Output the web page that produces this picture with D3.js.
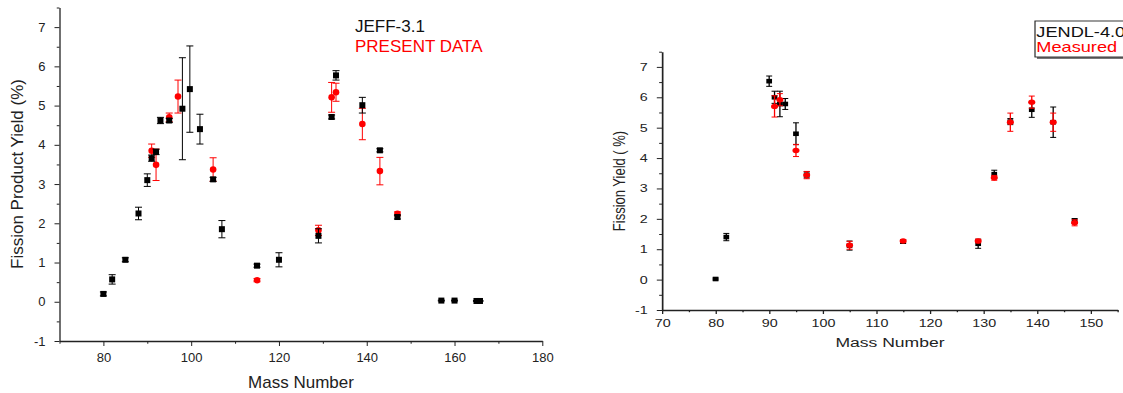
<!DOCTYPE html>
<html>
<head>
<meta charset="utf-8">
<script src="https://cdn.jsdelivr.net/npm/d3@7"></script>
<style>
  body { margin: 0; background: #fff; }
  svg { display: block; font-family: "Liberation Sans", Arial, sans-serif; }
</style>
</head>
<body>
<div id="chart"></div>
<script>
// left panel: JEFF-3.1 vs present data
const jeffMass = [80, 82, 85, 88, 90, 91, 92, 93, 95, 98, 99.7, 102, 105, 107, 115, 120, 129, 132, 133, 139, 143, 147, 157, 160, 165, 165.8];
const jeffYield = [0.2, 0.57, 1.07, 2.25, 3.1, 3.66, 3.82, 4.62, 4.62, 4.92, 5.42, 4.4, 3.12, 1.85, 0.92, 1.07, 1.68, 4.71, 5.77, 5.01, 3.86, 2.16, 0.03, 0.03, 0.02, 0.02];
const jeffErr = [0.05, 0.12, 0.05, 0.16, 0.16, 0.08, 0.07, 0.08, 0.05, 1.3, 1.1, 0.38, 0.05, 0.22, 0.04, 0.18, 0.18, 0.05, 0.12, 0.2, 0.04, 0.05, 0.01, 0.01, 0.01, 0.01];

const presentMass = [91, 92, 95, 97, 105, 115, 129, 132, 133, 139, 143, 147];
const presentYield = [3.85, 3.49, 4.7, 5.23, 3.37, 0.55, 1.82, 5.21, 5.34, 4.53, 3.33, 2.24];
const presentErr = [0.17, 0.4, 0.11, 0.42, 0.3, 0.04, 0.13, 0.38, 0.23, 0.4, 0.35, 0.05];

// right panel: JENDL-4.0 vs measured
const jendlMass = [80, 82, 90, 91, 92, 93, 95, 97, 105, 115, 129, 132, 135, 139, 143, 147];
const jendlYield = [0.02, 1.4, 6.53, 6.0, 5.78, 5.78, 4.8, 3.45, 1.12, 1.25, 1.18, 3.47, 5.2, 5.59, 5.18, 1.93];
const jendlErr = [0.03, 0.12, 0.17, 0.2, 0.42, 0.18, 0.36, 0.1, 0.15, 0.06, 0.15, 0.13, 0.1, 0.25, 0.5, 0.08];

const measMass = [91, 92, 95, 97, 105, 115, 129, 132, 135, 139, 143, 147];
const measYield = [5.7, 5.92, 4.25, 3.44, 1.13, 1.27, 1.27, 3.35, 5.18, 5.84, 5.18, 1.87];
const measErr = [0.35, 0.2, 0.2, 0.12, 0.13, 0.05, 0.06, 0.08, 0.3, 0.2, 0.3, 0.1];

const leftXTicks = [80, 100, 120, 140, 160, 180];
const leftXMinor = [70, 90, 110, 130, 150, 170];
const rightXTicks = [70, 80, 90, 100, 110, 120, 130, 140, 150];
const rightXMinor = [75, 85, 95, 105, 115, 125, 135, 145, 155];
const yTicks = [-1, 0, 1, 2, 3, 4, 5, 6, 7];
const yMinor = [-0.5, 0.5, 1.5, 2.5, 3.5, 4.5, 5.5, 6.5, 7.5];

const W = 1123, H = 393;
const svg = d3.select('#chart').append('svg')
  .attr('width', W)
  .attr('height', H);

const zip = (m, v, e) => m.map((d, i) => ({m: d, v: v[i], e: e[i]}));
const plain = d => String(d);   // keep "-1" with a plain hyphen

function axes(g, x, y, o) {
  const left = x.range()[0], bottom = y.range()[0];
  g.append('g').attr('transform', `translate(0,${bottom})`)
    .call(d3.axisBottom(x).tickValues(o.xt).tickSize(o.tl).tickSizeOuter(0).tickPadding(o.xpad).tickFormat(plain));
  g.append('g').attr('transform', `translate(0,${bottom})`)
    .call(d3.axisBottom(x).tickValues(o.xm).tickSize(o.tl * 0.55).tickFormat(''))
    .select('.domain').remove();
  g.append('g').attr('transform', `translate(${left},0)`)
    .call(d3.axisLeft(y).tickValues(yTicks).tickSize(o.tl).tickSizeOuter(0).tickPadding(o.ypad).tickFormat(plain));
  g.append('g').attr('transform', `translate(${left},0)`)
    .call(d3.axisLeft(y).tickValues(yMinor).tickSize(o.tl * 0.55).tickFormat(''))
    .select('.domain').remove();
  g.selectAll('.tick line').attr('stroke', '#222');
  g.selectAll('.domain').attr('stroke', '#222').attr('stroke-width', 1.3);
  g.selectAll('.tick text').attr('fill', '#222').style('font-size', o.fs + 'px').style('font-family', '"Liberation Sans", Arial, sans-serif');
}

function errorBars(g, data, x, y, color, cap) {
  const eb = g.append('g').attr('stroke', color).attr('stroke-width', 1);
  eb.selectAll('line.v').data(data).join('line')
    .attr('x1', d => x(d.m)).attr('x2', d => x(d.m))
    .attr('y1', d => y(d.v - d.e)).attr('y2', d => y(d.v + d.e));
  eb.selectAll('line.t').data(data).join('line')
    .attr('x1', d => x(d.m) - cap).attr('x2', d => x(d.m) + cap)
    .attr('y1', d => y(d.v + d.e)).attr('y2', d => y(d.v + d.e));
  eb.selectAll('line.b').data(data).join('line')
    .attr('x1', d => x(d.m) - cap).attr('x2', d => x(d.m) + cap)
    .attr('y1', d => y(d.v - d.e)).attr('y2', d => y(d.v - d.e));
}

// ---- left panel ----
const xL = d3.scaleLinear().domain([70, 180]).range([59.5, 542.3]);
const yL = d3.scaleLinear().domain([-1, 7.5]).range([341, 7.5]);
const gL = svg.append('g');
axes(gL, xL, yL, {xt: leftXTicks, xm: leftXMinor, tl: 5, xpad: 7, ypad: 9, fs: 13});

const jeff = zip(jeffMass, jeffYield, jeffErr);
const present = zip(presentMass, presentYield, presentErr);

errorBars(gL, present, xL, yL, '#f00', 3.5);
gL.append('g').selectAll('circle').data(present).join('circle')
  .attr('cx', d => xL(d.m)).attr('cy', d => yL(d.v)).attr('r', 3.3)
  .attr('fill', '#f00');

errorBars(gL, jeff, xL, yL, '#000', 3.5);
gL.append('g').selectAll('rect').data(jeff).join('rect')
  .attr('x', d => xL(d.m) - 3).attr('y', d => yL(d.v) - 3)
  .attr('width', 6).attr('height', 6)
  .attr('fill', '#000');

gL.append('text')
  .attr('transform', 'translate(23,174) rotate(-90)')
  .attr('text-anchor', 'middle')
  .style('font-size', '17px').attr('fill', '#222')
  .text('Fission Product Yield (%)');
gL.append('text')
  .attr('x', 301).attr('y', 388)
  .attr('text-anchor', 'middle')
  .style('font-size', '17px').attr('fill', '#222')
  .text('Mass Number');
gL.append('text').attr('x', 355).attr('y', 32)
  .style('font-size', '17px').attr('fill', '#111').text('JEFF-3.1');
gL.append('text').attr('x', 355).attr('y', 52)
  .style('font-size', '17px').attr('fill', '#f00').text('PRESENT DATA');

// ---- right panel (horizontally stretched, like the original figure) ----
const sx = 1.3;
const x0 = 662;
const xR = d3.scaleLinear().domain([70, 155]).range([0, (1117.5 - x0) / sx]);
const yR = d3.scaleLinear().domain([-1, 7.5]).range([310, 51.7]);
const gR = svg.append('g').attr('transform', `translate(${x0},0) scale(${sx},1)`);
axes(gR, xR, yR, {xt: rightXTicks, xm: rightXMinor, tl: 4, xpad: 5, ypad: 7, fs: 11});

const jendl = zip(jendlMass, jendlYield, jendlErr);
const meas = zip(measMass, measYield, measErr);

errorBars(gR, jendl, xR, yR, '#000', 2.3);
gR.append('g').selectAll('rect').data(jendl).join('rect')
  .attr('x', d => xR(d.m) - 2.2).attr('y', d => yR(d.v) - 2.3)
  .attr('width', 4.4).attr('height', 4.6)
  .attr('fill', '#000');

errorBars(gR, meas, xR, yR, '#f00', 2.3);
gR.append('g').selectAll('circle').data(meas).join('circle')
  .attr('cx', d => xR(d.m)).attr('cy', d => yR(d.v)).attr('r', 2.7)
  .attr('fill', '#f00');

gR.append('text')
  .attr('transform', `translate(${(625 - x0) / sx},181) rotate(-90)`)
  .attr('text-anchor', 'middle')
  .style('font-size', '13px').attr('fill', '#222')
  .text('Fission Yield ( %)');
gR.append('text')
  .attr('x', (890 - x0) / sx).attr('y', 347)
  .attr('text-anchor', 'middle')
  .style('font-size', '13.5px').attr('fill', '#222')
  .text('Mass Number');

// legend box, cut by the right edge
const lx = (1035 - x0) / sx;
gR.append('rect').attr('x', lx + 1.5).attr('y', 23).attr('width', 80).attr('height', 36).attr('fill', '#777');
gR.append('rect').attr('x', lx).attr('y', 21).attr('width', 80).attr('height', 36)
  .attr('fill', '#fff').attr('stroke', '#222').attr('stroke-width', 0.9);
gR.append('text').attr('x', lx + 1).attr('y', 37.5)
  .style('font-size', '14px').attr('fill', '#111').text('JENDL-4.0');
gR.append('text').attr('x', lx + 1).attr('y', 52)
  .style('font-size', '14px').attr('fill', '#f00').text('Measured');
</script>
</body>
</html>
